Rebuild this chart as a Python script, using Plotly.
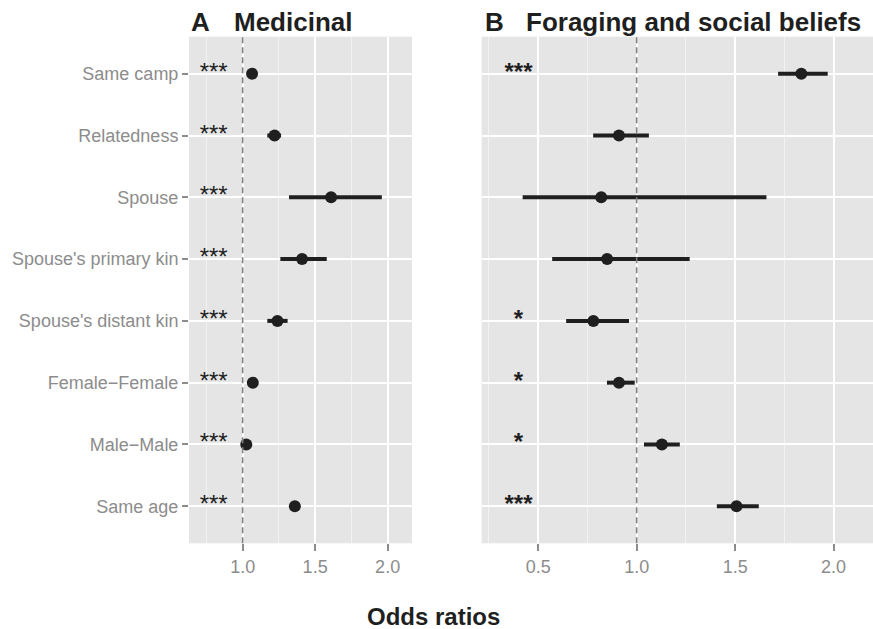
import plotly.graph_objects as go

# ---------------- data ----------------
categories = ["Same camp", "Relatedness", "Spouse", "Spouse's primary kin",
              "Spouse's distant kin", "Female\u2212Female", "Male\u2212Male", "Same age"]

med_or = [1.065, 1.22, 1.61, 1.41, 1.24, 1.07, 1.025, 1.36]
med_lo = [1.045, 1.17, 1.32, 1.26, 1.17, 1.05, 1.005, 1.34]
med_hi = [1.085, 1.265, 1.96, 1.58, 1.31, 1.09, 1.045, 1.38]
med_sig = ["***", "***", "***", "***", "***", "***", "***", "***"]

for_or = [1.836, 0.91, 0.82, 0.85, 0.78, 0.91, 1.128, 1.507]
for_lo = [1.718, 0.779, 0.421, 0.571, 0.642, 0.849, 1.037, 1.407]
for_hi = [1.970, 1.062, 1.659, 1.269, 0.961, 0.990, 1.219, 1.620]
for_sig = ["***", "", "", "", "*", "*", "*", "***"]

med_ticks = [1.0, 1.5, 2.0]
med_minor = [0.75, 1.25, 1.75]
for_ticks = [0.5, 1.0, 1.5, 2.0]
for_minor = [0.25, 0.75, 1.25, 1.75]
tick_text = lambda v: ["%.1f" % t for t in v]

med_star_x = 0.80
for_star_x = 0.40
ref_line = 1.0

# ---------------- styling ----------------
W, H = 873, 629
FONT = "Liberation Sans, Arial, sans-serif"
INK = "#1f1f1f"
GREY = "#8c8c8c"

def px_x(p):
    return p / W

def px_y(p):
    return 1 - p / H

def seg(lo, hi, cats):
    xs, ys = [], []
    for l, h, c in zip(lo, hi, cats):
        xs += [l, h, None]
        ys += [c, c, None]
    return xs, ys

fig = go.Figure()

for (orv, lo, hi, sig, sx, xa, ya, sbold) in [
    (med_or, med_lo, med_hi, med_sig, med_star_x, "x", "y", False),
    (for_or, for_lo, for_hi, for_sig, for_star_x, "x2", "y2", True),
]:
    xs, ys = seg(lo, hi, categories)
    fig.add_trace(go.Scatter(x=xs, y=ys, mode="lines", xaxis=xa, yaxis=ya,
                             line=dict(color=INK, width=4), hoverinfo="skip",
                             showlegend=False))
    fig.add_trace(go.Scatter(x=orv, y=categories, mode="markers", xaxis=xa, yaxis=ya,
                             marker=dict(color=INK, size=12), showlegend=False))
    fig.add_trace(go.Scatter(x=[sx] * len(categories), y=categories, mode="text",
                             text=[("<b>%s</b>" % s if (sbold and s) else s) for s in sig],
                             textposition="middle center", xaxis=xa, yaxis=ya,
                             textfont=dict(family=FONT, size=24, color=INK),
                             showlegend=False, hoverinfo="skip"))

ydom = [px_y(543.3), px_y(36.7)]
common_x = dict(ticks="outside", ticklen=7, tickwidth=2, tickcolor=GREY,
                tickfont=dict(family=FONT, size=18, color=GREY),
                showgrid=True, gridcolor="white", gridwidth=2,
                zeroline=False, showline=False, fixedrange=True)
common_y = dict(type="category", categoryorder="array",
                categoryarray=list(reversed(categories)),
                range=[-0.6, len(categories) - 0.4],
                showgrid=True, gridcolor="white", gridwidth=2,
                zeroline=False, showline=False, domain=ydom, fixedrange=True)

fig.update_layout(
    width=W, height=H,
    margin=dict(l=0, r=0, t=0, b=0),
    paper_bgcolor="white", plot_bgcolor="#e5e5e5",
    font=dict(family=FONT, color=INK),
    xaxis=dict(domain=[px_x(189), px_x(412)], range=[0.63, 2.168],
               tickvals=med_ticks, ticktext=tick_text(med_ticks), anchor="y",
               minor=dict(tickvals=med_minor, showgrid=True, gridcolor="#f2f2f2",
                          gridwidth=1.2, ticks=""),
               **common_x),
    xaxis2=dict(domain=[px_x(481.7), 1.0], range=[0.213, 2.2],
                tickvals=for_ticks, ticktext=tick_text(for_ticks), anchor="y2",
                minor=dict(tickvals=for_minor, showgrid=True, gridcolor="#f2f2f2",
                           gridwidth=1.2, ticks=""),
                **common_x),
    yaxis=dict(anchor="x", ticks="outside", ticklen=6, tickwidth=2, tickcolor=GREY,
               tickfont=dict(family=FONT, size=18, color=GREY), **common_y),
    yaxis2=dict(anchor="x2", ticks="", showticklabels=False, **common_y),
    shapes=[
        dict(type="line", xref="x", yref="y domain", x0=ref_line, x1=ref_line, y0=0, y1=1,
             line=dict(color="#808080", width=1.6, dash="6px,4px"), layer="above"),
        dict(type="line", xref="x2", yref="y2 domain", x0=ref_line, x1=ref_line, y0=0, y1=1,
             line=dict(color="#808080", width=1.6, dash="6px,4px"), layer="above"),
    ],
    annotations=[
        dict(text="<b>A</b>", x=px_x(189), y=px_y(22), xref="paper", yref="paper",
             xanchor="left", yanchor="middle", showarrow=False,
             font=dict(family=FONT, size=26, color=INK)),
        dict(text="<b>Medicinal</b>", x=px_x(232), y=px_y(22), xref="paper", yref="paper",
             xanchor="left", yanchor="middle", showarrow=False,
             font=dict(family=FONT, size=26, color=INK)),
        dict(text="<b>B</b>", x=px_x(483), y=px_y(22), xref="paper", yref="paper",
             xanchor="left", yanchor="middle", showarrow=False,
             font=dict(family=FONT, size=26, color=INK)),
        dict(text="<b>Foraging and social beliefs</b>", x=px_x(524), y=px_y(22),
             xref="paper", yref="paper", xanchor="left", yanchor="middle", showarrow=False,
             font=dict(family=FONT, size=26, color=INK)),
        dict(text="<b>Odds ratios</b>", x=px_x(433.5), y=px_y(616), xref="paper", yref="paper",
             xanchor="center", yanchor="middle", showarrow=False,
             font=dict(family=FONT, size=24, color=INK)),
    ],
)

fig.write_html("out.html", config={"displayModeBar": False},
               post_script="document.body.style.margin='0';document.body.style.overflow='hidden';")
